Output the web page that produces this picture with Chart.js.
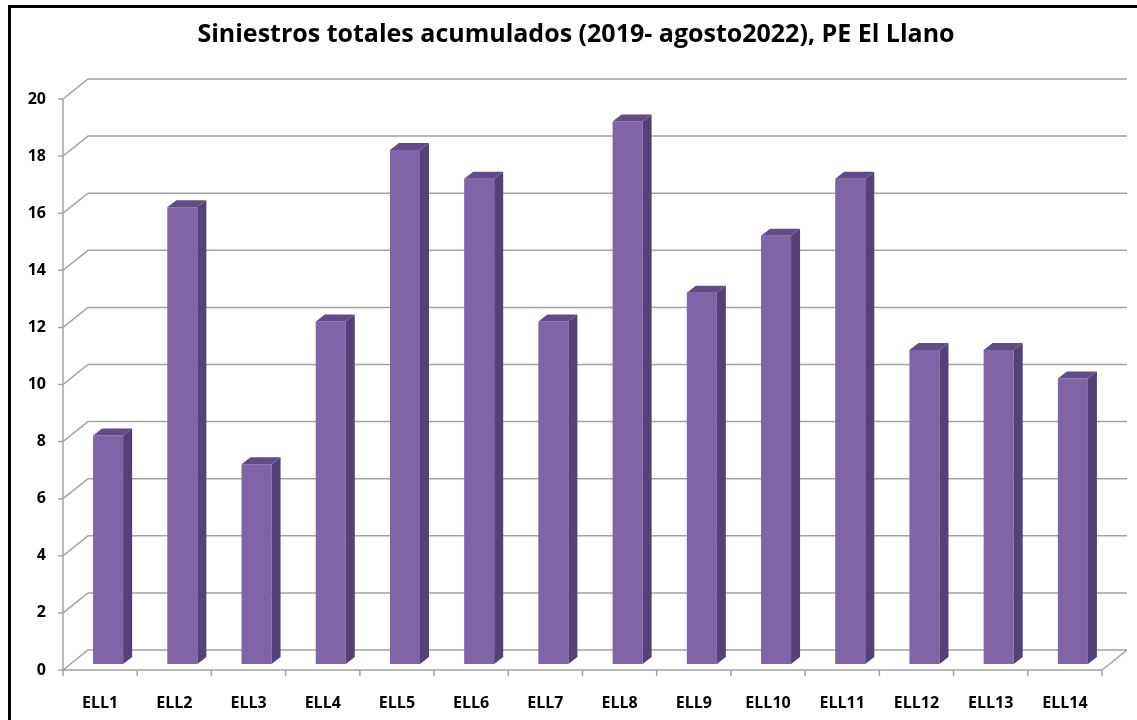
<!DOCTYPE html>
<html>
<head>
<meta charset="utf-8">
<script src="https://cdn.jsdelivr.net/npm/chart.js@4.4.0/dist/chart.umd.min.js"></script>
<style>
  html, body { margin: 0; padding: 0; background: #fff; }
  #wrap { width: 1137px; height: 720px; }
</style>
</head>
<body>
<div id="wrap"><canvas id="chart" width="1137" height="720"></canvas></div>
<script>
// --- DONNÉES ---
const categories = ["ELL1", "ELL2", "ELL3", "ELL4", "ELL5", "ELL6", "ELL7",
  "ELL8", "ELL9", "ELL10", "ELL11", "ELL12", "ELL13", "ELL14"];
const siniestros = [8, 16, 7, 12, 18, 17, 12, 19, 13, 15, 17, 11, 11, 10];
const yMin = 0, yMax = 20, yStep = 2;
const titulo = "Siniestros totales acumulados (2019- agosto2022), PE El Llano";

// --- EFFET 3D ---
const DEPTH = { x: 25, y: -20 };     // profondeur du mur du fond
const SHIFT = { x: 8, y: -6 };       // décalage des barres dans la profondeur
const BAR_D = { x: 9, y: -7 };       // épaisseur des barres

const wall3d = {
  id: "wall3d",
  beforeDatasetsDraw(chart) {
    const { ctx, chartArea: a, scales: { x, y } } = chart;
    ctx.save();
    ctx.strokeStyle = "#a3a3a3";
    ctx.lineWidth = 1.5;
    ctx.beginPath();
    y.ticks.forEach((t) => {
      const py = y.getPixelForValue(t.value);
      ctx.moveTo(a.left - 5, py);
      ctx.lineTo(a.left, py);
      ctx.lineTo(a.left + DEPTH.x, py + DEPTH.y);
      ctx.lineTo(a.right + DEPTH.x, py + DEPTH.y);
    });
    // axe avant + sol
    ctx.moveTo(a.left, a.top);
    ctx.lineTo(a.left, a.bottom);
    ctx.lineTo(a.right, a.bottom);
    ctx.lineTo(a.right + DEPTH.x, a.bottom + DEPTH.y);
    // graduations des catégories
    const step = (a.right - a.left) / categories.length;
    for (let i = 0; i <= categories.length; i++) {
      const px = a.left + i * step;
      ctx.moveTo(px, a.bottom);
      ctx.lineTo(px, a.bottom + 6);
    }
    ctx.stroke();
    ctx.restore();

    ctx.save();
    ctx.translate(SHIFT.x, SHIFT.y);
  },
  afterDatasetsDraw(chart) {
    const ctx = chart.ctx;
    const meta = chart.getDatasetMeta(0);
    meta.data.forEach((bar) => {
      const { x, y, base, width } = bar.getProps(["x", "y", "base", "width"], true);
      const l = x - width / 2, r = x + width / 2;
      // côté
      ctx.fillStyle = "#54417a";
      ctx.beginPath();
      ctx.moveTo(r, y);
      ctx.lineTo(r + BAR_D.x, y + BAR_D.y);
      ctx.lineTo(r + BAR_D.x, base + BAR_D.y);
      ctx.lineTo(r, base);
      ctx.closePath();
      ctx.fill();
      // dessus
      ctx.fillStyle = "#614c88";
      ctx.beginPath();
      ctx.moveTo(l, y);
      ctx.lineTo(l + BAR_D.x, y + BAR_D.y);
      ctx.lineTo(r + BAR_D.x, y + BAR_D.y);
      ctx.lineTo(r, y);
      ctx.closePath();
      ctx.fill();
    });
    ctx.restore();
  },
  afterDraw(chart) {
    const ctx = chart.ctx;
    ctx.save();
    ctx.strokeStyle = "#000";
    ctx.lineWidth = 3;
    ctx.strokeRect(9.5, 6.5, 1300, 900);
    ctx.restore();
  },
};

const tickFont = { family: "Open Sans", size: 16, weight: "bold" };

new Chart(document.getElementById("chart"), {
  type: "bar",
  data: {
    labels: categories,
    datasets: [
      {
        label: "Siniestros",
        data: siniestros,
        backgroundColor: "#8064a8",
        borderWidth: 0,
        barPercentage: 0.405,
        categoryPercentage: 1,
      },
    ],
  },
  options: {
    responsive: false,
    animation: false,
    layout: { padding: { left: 15, right: 0, top: 0, bottom: 0 } },
    plugins: {
      legend: { display: false },
      tooltip: { enabled: false },
      title: {
        display: true,
        text: titulo,
        color: "#000",
        font: { family: "Open Sans", size: 25, weight: "bold" },
        padding: { top: 20, bottom: 49 },
      },
    },
    scales: {
      x: {
        grid: { display: false },
        border: { display: false },
        ticks: { color: "#000", font: tickFont, padding: 16, maxRotation: 0 },
        afterFit: (s) => { s.height = 50; },
      },
      y: {
        min: yMin,
        max: yMax,
        grid: { display: false },
        border: { display: false },
        ticks: { stepSize: yStep, color: "#000", font: tickFont, padding: 9 },
        afterFit: (s) => { s.width = 48; },
      },
      // axe vide à droite pour laisser la place à la profondeur
      yRight: {
        position: "right",
        min: yMin,
        max: yMax,
        grid: { display: false },
        border: { display: false },
        ticks: { display: false },
        afterFit: (s) => { s.width = 35; },
      },
    },
  },
  plugins: [wall3d],
});
</script>
</body>
</html>
